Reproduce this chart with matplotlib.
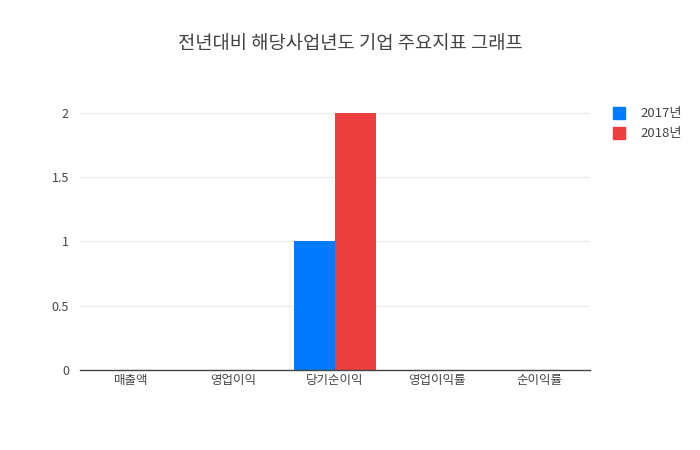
import numpy as np
import matplotlib.pyplot as plt

plt.rcParams['font.family'] = ['Noto Sans CJK KR', 'DejaVu Sans']

categories = ["매출액", "영업이익", "당기순이익", "영업이익률", "순이익률"]
series_names = ["2017년", "2018년"]
values_2017 = [0, 0, 1, 0, 0]
values_2018 = [0, 0, 2, 0, 0]
colors = ["#007bff", "#ef3e3e"]

fig = plt.figure(figsize=(7, 4.5), dpi=100)
ax = fig.add_axes([80/700, 80/450, 510/700, 270/450])

x = np.arange(len(categories))
w = 0.4
ax.bar(x - w/2, values_2017, w, color=colors[0])
ax.bar(x + w/2, values_2018, w, color=colors[1])

ax.set_xlim(-0.5, len(categories) - 0.5)
ax.set_ylim(0, 2.1)
ax.set_yticks([0, 0.5, 1, 1.5, 2])
ax.set_yticklabels(["0", "0.5", "1", "1.5", "2"])
ax.set_xticks(x)
ax.set_xticklabels(categories)
ax.tick_params(axis='both', length=0, labelsize=9, colors="#444444")
ax.tick_params(axis='y', pad=8)
ax.tick_params(axis='x', pad=3)
ax.grid(axis='y', color="#eeeeee", linewidth=1)
ax.set_axisbelow(True)
for s in ["top", "right", "left"]:
    ax.spines[s].set_visible(False)
ax.spines["bottom"].set_color("#444444")
ax.spines["bottom"].set_linewidth(1)

fig.text(0.5, 1 - 43/450, "전년대비 해당사업년도 기업 주요지표 그래프",
         ha="center", va="center", fontsize=13.5, color="#444444")

# legend
for i, name in enumerate(series_names):
    yy = 1 - (113 + 20*i)/450
    fig.patches.append(plt.Rectangle((613/700, yy - 6/450), 12/700, 12/450,
                                     transform=fig.transFigure, color=colors[i]))
    fig.text(640/700, yy, name, ha="left", va="center", fontsize=9.5, color="#444444")

fig.savefig("out.png", dpi=100)
